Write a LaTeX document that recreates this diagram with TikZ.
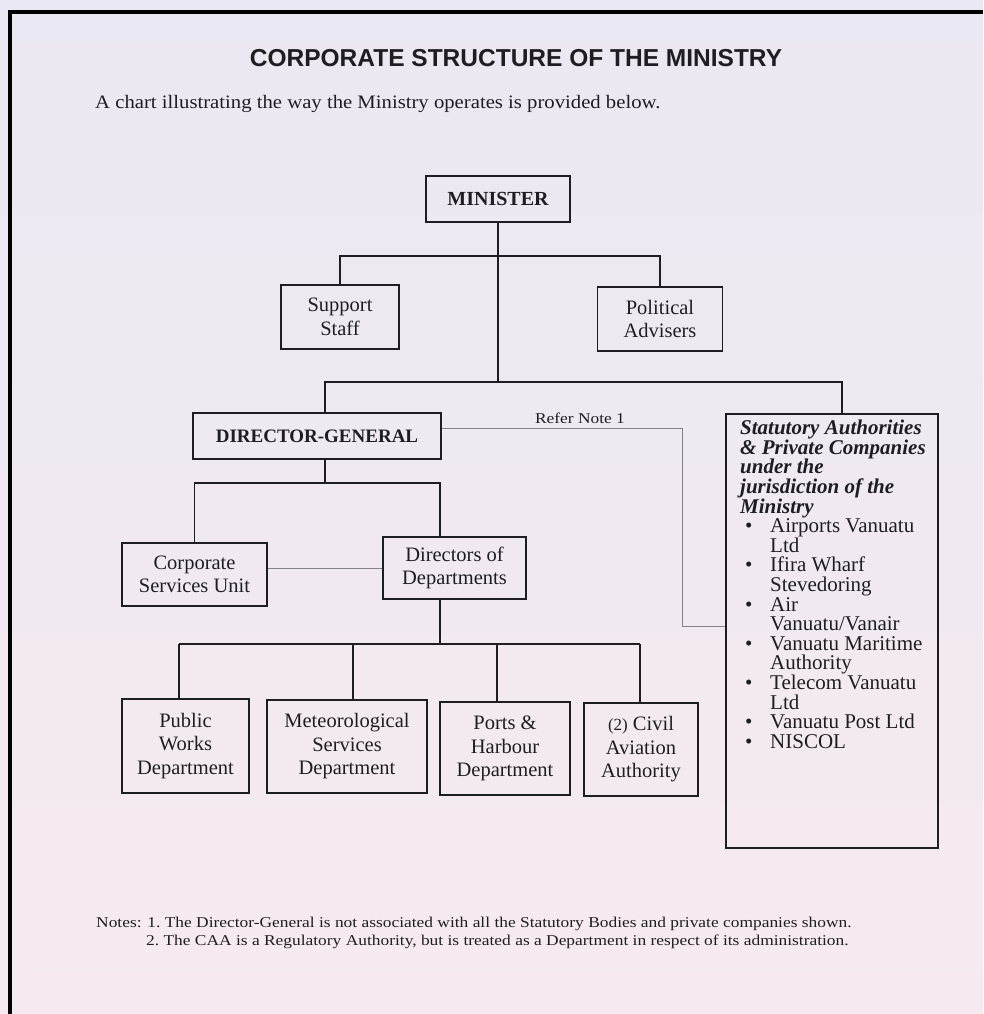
\documentclass[tikz,border=0pt]{standalone}
\usepackage{fontspec}
\setmainfont{Liberation Serif}
\newfontfamily\headfont{Liberation Sans}
\newfontfamily\notefont[FakeStretch=1.16]{Liberation Serif}
\newfontfamily\introfont[FakeStretch=1.09]{Liberation Serif}
\definecolor{ink}{RGB}{30,30,34}
\definecolor{paperTop}{RGB}{234,232,242}
\definecolor{paperBot}{RGB}{246,234,240}
\newcommand\sahead[1]{\textbf{\textit{#1}}}
\newcommand\saitem[1]{\makebox[30pt][l]{\hspace{5pt}\textbullet}#1}
\newcommand\sacont[1]{\hspace*{30pt}#1}
\begin{document}
\begin{tikzpicture}[x=1pt,y=-1pt,
  orgbox/.style={draw=ink,line width=1.3pt,rectangle,inner sep=0pt,align=center,
    text=ink,font=\fontsize{20.5}{23.5}\selectfont},
  link/.style={draw=ink,line width=1.2pt},
  faint/.style={draw=ink!55,line width=0.7pt},
]
% page and frame
\useasboundingbox (0,0) rectangle (983,1014);
\shade[top color=paperTop,bottom color=paperBot] (0,0) rectangle (983,1014);
\fill[black] (8,10) rectangle (983,14);
\fill[black] (8,10) rectangle (12,1014);

% heading
\node[text=ink,font=\headfont\bfseries\fontsize{24.5}{28}\selectfont] (title) at (516,58)
  {CORPORATE STRUCTURE OF THE MINISTRY};
\node[text=ink,anchor=west,inner sep=0pt,font=\introfont\fontsize{19}{22}\selectfont] (intro) at (95,104)
  {A chart illustrating the way the Ministry operates is provided below.};

% boxes
\node[orgbox,minimum width=144pt,minimum height=46pt,font=\bfseries\fontsize{20}{23}\selectfont]
  (min) at (498,199) {MINISTER};
\node[orgbox,minimum width=118pt,minimum height=64pt] (sup) at (340,317) {Support\\Staff};
\node[orgbox,minimum width=125pt,minimum height=64pt] (pol) at (660,319) {Political\\Advisers};
\node[orgbox,minimum width=248pt,minimum height=46pt,font=\bfseries\fontsize{19}{22}\selectfont]
  (dg) at (317,436) {DIRECTOR-GENERAL};
\node[orgbox,minimum width=212pt,minimum height=434pt] (sa) at (832,631) {};
\node[orgbox,minimum width=145pt,minimum height=63pt] (csu) at (194.5,574.5) {Corporate\\Services Unit};
\node[orgbox,minimum width=143pt,minimum height=62pt] (dod) at (454.5,568) {Directors of\\Departments};
\node[orgbox,minimum width=127pt,minimum height=94pt] (pw) at (185.5,746) {Public\\Works\\Department};
\node[orgbox,minimum width=160pt,minimum height=93pt] (met) at (347,746.5) {Meteorological\\Services\\Department};
\node[orgbox,minimum width=130pt,minimum height=93pt] (ph) at (505,748.5) {Ports \&\\Harbour\\Department};
\node[orgbox,minimum width=114pt,minimum height=93pt] (caa) at (641,749.5)
  {{\fontsize{17}{20}\selectfont(2)} Civil\\Aviation\\Authority};

% list inside the statutory bodies box
\node[anchor=north west,align=left,inner sep=0pt,text=ink,font=\fontsize{21}{19.6}\selectfont]
  (salist) at (740,420) {%
  \sahead{Statutory Authorities}\\
  \sahead{\& Private Companies}\\
  \sahead{under the}\\
  \sahead{jurisdiction of the}\\
  \sahead{Ministry}\\
  \saitem{Airports Vanuatu}\\
  \sacont{Ltd}\\
  \saitem{Ifira Wharf}\\
  \sacont{Stevedoring}\\
  \saitem{Air}\\
  \sacont{Vanuatu/Vanair}\\
  \saitem{Vanuatu Maritime}\\
  \sacont{Authority}\\
  \saitem{Telecom Vanuatu}\\
  \sacont{Ltd}\\
  \saitem{Vanuatu Post Ltd}\\
  \saitem{NISCOL}};

% branch points
\coordinate (barA) at (498,256);
\coordinate (barB) at (498,382);
\coordinate (dgtap) at (325,382);
\coordinate (satap) at (842,382);
\coordinate (dgsplit) at (325,483);
\coordinate (dodtap) at (440,483);
\coordinate (deptbar) at (440,644);
\coordinate (tapA) at (179,644);
\coordinate (tapB) at (353,644);
\coordinate (tapC) at (497,644);
\coordinate (tapD) at (640,644);
\coordinate (rn1) at (682,428);
\coordinate (rn2) at (682,626);

% solid reporting lines
\draw[link] (min.south) -- (barB);
\draw[link] (sup.north) |- (barA) -| (pol.north);
\draw[link] (dg.north -| dgtap) -- (dgtap) -- (satap) -- (sa.north -| satap);
\draw[link] (dg.south -| dgsplit) -- (dgsplit);
\draw[link] (csu.north) |- (dodtap) -- (dod.north -| dodtap);
\draw[link] (dod.south -| deptbar) -- (deptbar);
\draw[link] (tapA) -- (tapD);
\foreach \n/\t in {pw/tapA, met/tapB, ph/tapC, caa/tapD}
  \draw[link] (\t) -- (\n.north -| \t);

% advisory lines
\draw[faint] (csu.east |- dod.west) -- (dod.west);
\draw[faint] (dg.east |- rn1) -- (rn1) -- (rn2) -- (sa.west |- rn2);
\node[text=ink,font=\notefont\fontsize{15}{17}\selectfont] (rnote) at (580,418) {Refer Note 1};

% notes
\node[text=ink,anchor=west,inner sep=0pt,font=\notefont\fontsize{15}{17}\selectfont] (note1) at (96,924)
  {Notes: 1.\ The Director-General is not associated with all the Statutory Bodies and private companies shown.};
\node[text=ink,anchor=west,inner sep=0pt,font=\notefont\fontsize{15}{17}\selectfont] (note2) at (146,942)
  {2.\ The CAA is a Regulatory Authority, but is treated as a Department in respect of its administration.};
\end{tikzpicture}
\end{document}
